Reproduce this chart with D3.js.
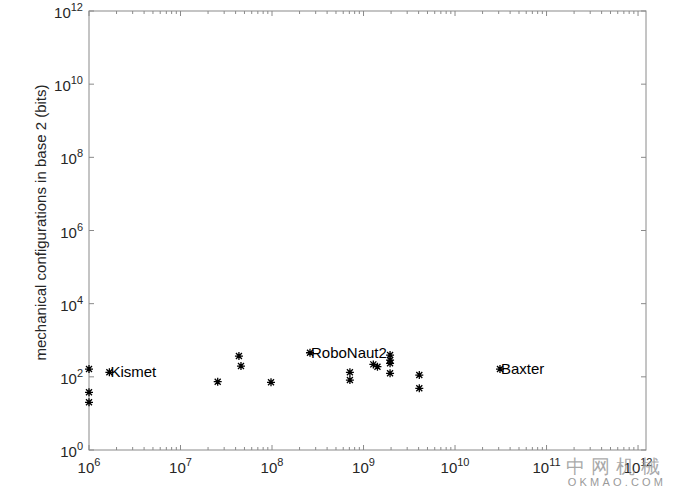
<!DOCTYPE html>
<html><head><meta charset="utf-8">
<script src="https://cdn.jsdelivr.net/npm/d3@7"></script>
<style>
html,body{margin:0;padding:0;background:#fff;}
svg{display:block;}
text{font-family:"Liberation Sans",Arial,Helvetica,sans-serif;}
</style></head>
<body>
<script>
// ---- data ----
const xValues = [1e6, 1e6, 1e6, 1.67e6, 2.55e7, 4.35e7, 4.58e7, 9.75e7, 2.6e8, 7.1e8, 7.1e8, 1.28e9, 1.42e9, 1.95e9, 1.95e9, 1.95e9, 1.95e9, 4.07e9, 4.07e9, 3.1e10];
const yValues = [163, 37.7, 20.1, 133, 73.5, 370, 197, 70.8, 455, 133, 81.8, 219, 189, 394, 288, 234, 125, 112, 48.5, 163];
const pointNames = ["", "", "", "Kismet", "", "", "", "", "RoboNaut2", "", "", "", "", "", "", "", "", "", "", "Baxter"];
const xTickExps = [6, 7, 8, 9, 10, 11, 12];
const yTickExps = [0, 2, 4, 6, 8, 10, 12];
const yLabel = "mechanical configurations in base 2 (bits)";

// ---- layout ----
const W = 678, H = 497;
const L = 89, R = 646, T = 11, B = 450;
const svg = d3.select("body").append("svg").attr("width", W).attr("height", H);

const x = d3.scaleLog().domain([1e6, Math.pow(10, 12.087)]).range([L, R]);
const y = d3.scaleLog().domain([1, 1e12]).range([B, T]);

const axisColor = "#8a8a8a", textColor = "#262626";

// box
svg.append("rect").attr("x", L).attr("y", T).attr("width", R - L).attr("height", B - T)
  .attr("fill", "none").attr("stroke", axisColor).attr("stroke-width", 1);

// x ticks (major + minor), bottom and top, inward
const xMinor = [];
for (let e = 6; e <= 12; e++) for (let m = 1; m <= 9; m++) {
  const v = m * Math.pow(10, e);
  if (v <= x.domain()[1]) xMinor.push({v, major: m === 1});
}
const gx = svg.append("g");
xMinor.forEach(t => {
  const px = x(t.v), len = t.major ? 5 : 3;
  gx.append("line").attr("x1", px).attr("x2", px).attr("y1", B).attr("y2", B - len).attr("stroke", axisColor);
  gx.append("line").attr("x1", px).attr("x2", px).attr("y1", T).attr("y2", T + len).attr("stroke", axisColor);
});
xTickExps.forEach(e => {
  const t = svg.append("text").attr("x", x(Math.pow(10, e))).attr("y", 473)
    .attr("text-anchor", "middle").attr("fill", textColor).attr("font-size", 15);
  t.append("tspan").text("10");
  t.append("tspan").attr("dy", -7).attr("font-size", 11).text(e);
});

// y ticks
yTickExps.forEach(e => {
  const py = y(Math.pow(10, e));
  svg.append("line").attr("x1", L).attr("x2", L + 5).attr("y1", py).attr("y2", py).attr("stroke", axisColor);
  svg.append("line").attr("x1", R).attr("x2", R - 5).attr("y1", py).attr("y2", py).attr("stroke", axisColor);
  const t = svg.append("text").attr("x", 83).attr("y", py + 7)
    .attr("text-anchor", "end").attr("fill", textColor).attr("font-size", 15);
  t.append("tspan").text("10");
  t.append("tspan").attr("dy", -7).attr("font-size", 11).text(e);
});

// y label
svg.append("text").attr("transform", `translate(46,${(T + B) / 2 - 8}) rotate(-90)`)
  .attr("text-anchor", "middle").attr("fill", textColor).attr("font-size", 15).text(yLabel);

// markers (asterisk)
const s = 4, d = 3;
const star = `M${-s},0L${s},0M0,${-s}L0,${s}M${-d},${-d}L${d},${d}M${-d},${d}L${d},${-d}`;
svg.append("g").selectAll("path").data(xValues.map((v, i) => ({x: v, y: yValues[i], name: pointNames[i]})))
  .join("path").attr("d", star)
  .attr("transform", p => `translate(${x(p.x)},${y(p.y)})`)
  .attr("stroke", "#000").attr("stroke-width", 1.3).attr("fill", "none");

// labels
xValues.forEach((v, i) => {
  if (!pointNames[i]) return;
  svg.append("text").attr("x", x(v) + 1).attr("y", y(yValues[i]) + 5)
    .attr("fill", "#000").attr("font-size", 15).text(pointNames[i]);
});

// watermark
svg.append("text").attr("x", 616).attr("y", 473).attr("text-anchor", "middle")
  .attr("fill", "#9a9a9a").attr("fill-opacity", 0.85).attr("font-size", 19)
  .attr("font-family", "Noto Sans CJK SC").attr("letter-spacing", 6).text("中网机械");
svg.append("text").attr("x", 617).attr("y", 486).attr("text-anchor", "middle")
  .attr("fill", "#9a9a9a").attr("font-size", 11).attr("letter-spacing", 3.2).text("OKMAO.COM");
</script>
</body></html>
